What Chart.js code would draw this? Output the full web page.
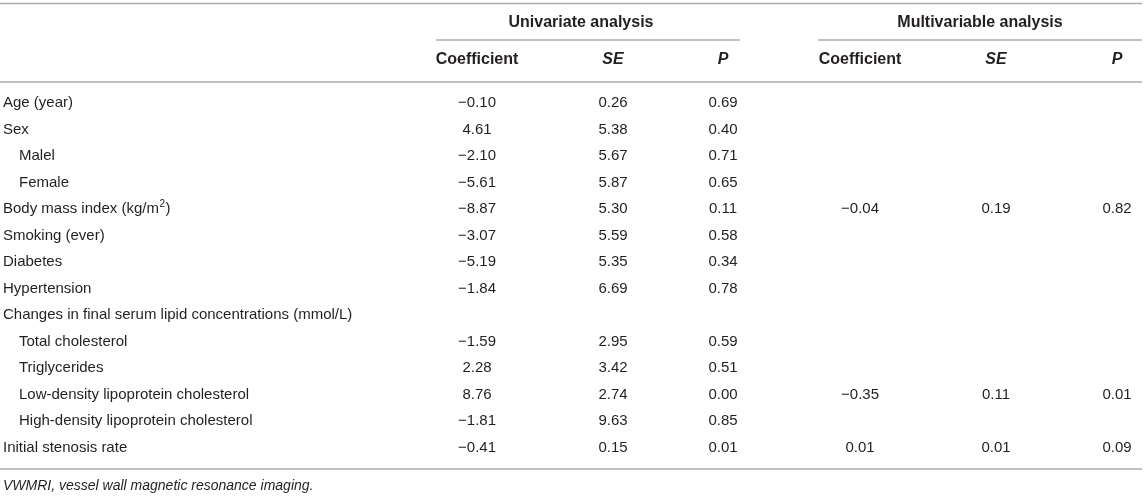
<!DOCTYPE html>
<html>
<head>
<meta charset="utf-8">
<script src="https://cdn.jsdelivr.net/npm/chart.js@4.4.1/dist/chart.umd.min.js"></script>
<style>
  html, body { margin: 0; padding: 0; background: #ffffff; }
  #wrap { width: 1145px; height: 497px; position: relative; }
</style>
</head>
<body>
<div id="wrap"><canvas id="c"></canvas></div>
<script>
// ---- data ----
const rowLabels = [
  "Age (year)", "Sex", "Malel", "Female", "Body mass index (kg/m2)",
  "Smoking (ever)", "Diabetes", "Hypertension",
  "Changes in final serum lipid concentrations (mmol/L)",
  "Total cholesterol", "Triglycerides",
  "Low-density lipoprotein cholesterol", "High-density lipoprotein cholesterol",
  "Initial stenosis rate"
];
const indentedRows = [2, 3, 9, 10, 11, 12];
const groupHeaders = ["Univariate analysis", "Multivariable analysis"];
const columnHeaders = ["Coefficient", "SE", "P", "Coefficient", "SE", "P"];
const uniCoef = [-0.10, 4.61, -2.10, -5.61, -8.87, -3.07, -5.19, -1.84, null, -1.59, 2.28, 8.76, -1.81, -0.41];
const uniSE   = [0.26, 5.38, 5.67, 5.87, 5.30, 5.59, 5.35, 6.69, null, 2.95, 3.42, 2.74, 9.63, 0.15];
const uniP    = [0.69, 0.40, 0.71, 0.65, 0.11, 0.58, 0.34, 0.78, null, 0.59, 0.51, 0.00, 0.85, 0.01];
const multiCoef = [null, null, null, null, -0.04, null, null, null, null, null, null, -0.35, null, 0.01];
const multiSE   = [null, null, null, null, 0.19, null, null, null, null, null, null, 0.11, null, 0.01];
const multiP    = [null, null, null, null, 0.82, null, null, null, null, null, null, 0.01, null, 0.09];
const footnote = "VWMRI, vessel wall magnetic resonance imaging.";

// ---- layout (pixel-space scale units) ----
const colX = [477, 613, 723, 860, 996, 1117];
const seriesCols = [uniCoef, uniSE, uniP, multiCoef, multiSE, multiP];
const TEXT = "#231f20";
const RULE = "#ababab";
const FONT = "'Liberation Sans', Arial, Helvetica, sans-serif";
const ROW0 = 103, ROWH = 26.5, H = 497, W = 1145;

function fmt(v) {
  const s = Math.abs(v).toFixed(2);
  return v < 0 ? "\u2212" + s : s;
}

const datasets = seriesCols.map((arr, ci) => ({
  label: columnHeaders[ci],
  data: arr.map((v, ri) => ({ x: colX[ci], y: ri, v: v })).filter(d => d.v !== null),
  pointRadius: 0, pointHoverRadius: 0, showLine: false
}));

const tablePlugin = {
  id: 'tablePlugin',
  afterDatasetsDraw(chart) {
    const ctx = chart.ctx;
    const xs = chart.scales.x, ys = chart.scales.y;
    const px = v => xs.getPixelForValue(v);
    const py = v => ys.getPixelForValue(v);
    const rowAt = pix => (pix - ROW0) / ROWH;
    ctx.save();
    // rules
    ctx.strokeStyle = RULE;
    ctx.lineWidth = 1.5;
    const hline = (x0, x1, yPix) => {
      ctx.beginPath();
      ctx.moveTo(px(x0), py(rowAt(yPix)));
      ctx.lineTo(px(x1), py(rowAt(yPix)));
      ctx.stroke();
    };
    hline(0, 1142, 3.5);
    hline(436, 740, 40);
    hline(818, 1142, 40);
    hline(0, 1142, 82);
    hline(0, 1142, 469);

    ctx.fillStyle = TEXT;
    ctx.textBaseline = 'middle';
    // group headers
    ctx.font = "bold 16px " + FONT;
    ctx.textAlign = 'center';
    ctx.fillText(groupHeaders[0], px(581), py(rowAt(23)));
    ctx.fillText(groupHeaders[1], px(980), py(rowAt(23)));
    // column headers
    columnHeaders.forEach((h, i) => {
      ctx.font = (h === "Coefficient" ? "bold 16px " : "italic bold 16px ") + FONT;
      ctx.fillText(h, px(colX[i]), py(rowAt(60)));
    });
    // row labels
    ctx.textAlign = 'left';
    ctx.font = "15px " + FONT;
    rowLabels.forEach((lab, ri) => {
      const x = px(indentedRows.includes(ri) ? 19 : 3);
      const y = py(ri);
      if (lab.endsWith("m2)")) {
        const base = lab.slice(0, -2);
        ctx.font = "15px " + FONT;
        ctx.fillText(base, x, y);
        let w = ctx.measureText(base).width;
        ctx.font = "10px " + FONT;
        ctx.fillText("2", x + w + 0.5, y - 5);
        w += ctx.measureText("2").width + 1;
        ctx.font = "15px " + FONT;
        ctx.fillText(")", x + w, y);
      } else {
        ctx.fillText(lab, x, y);
      }
    });
    // cells from dataset points
    ctx.textAlign = 'center';
    ctx.font = "15px " + FONT;
    chart.data.datasets.forEach((ds, di) => {
      const meta = chart.getDatasetMeta(di);
      meta.data.forEach((pt, i) => {
        const d = ds.data[i];
        if (!d) return;
        ctx.fillText(fmt(d.v), pt.x, pt.y);
      });
    });
    // footnote
    ctx.textAlign = 'left';
    ctx.font = "italic 14px " + FONT;
    ctx.fillText(footnote, px(3), py(rowAt(486)));
    ctx.restore();
  }
};

new Chart(document.getElementById('c'), {
  type: 'scatter',
  data: { datasets: datasets },
  options: {
    responsive: true,
    maintainAspectRatio: false,
    animation: false,
    events: [],
    layout: { padding: 0 },
    plugins: { legend: { display: false }, tooltip: { enabled: false } },
    scales: {
      x: { type: 'linear', min: 0, max: W, display: false },
      y: { type: 'linear', reverse: true, min: -ROW0 / ROWH, max: (H - ROW0) / ROWH, display: false }
    }
  },
  plugins: [tablePlugin]
});
</script>
</body>
</html>
